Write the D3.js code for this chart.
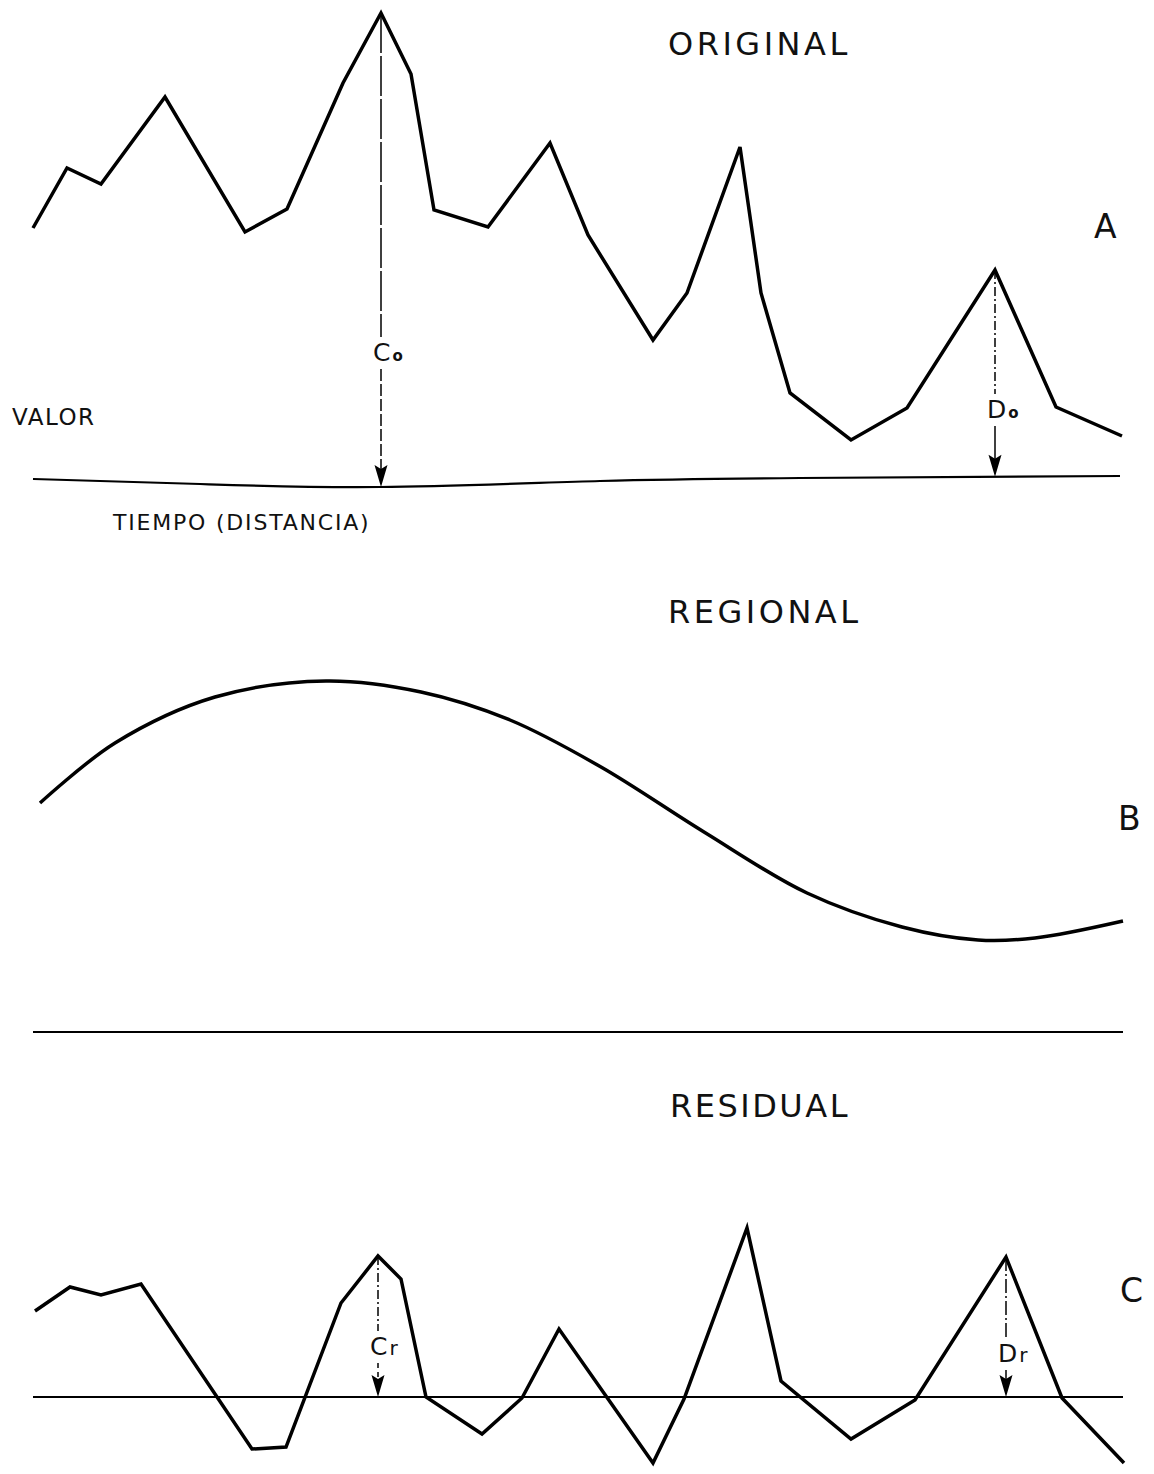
<!DOCTYPE html>
<html>
<head>
<meta charset="utf-8">
<script src="https://cdn.jsdelivr.net/npm/d3@7"></script>
<style>
  body { margin: 0; background: #fff; }
  text { font-family: "DejaVu Sans", sans-serif; fill: #111; }
</style>
</head>
<body>
<div class="canvas"></div>
<script>
// distance along the profile, shared by the three panels
const distA = [0, 34, 68, 132, 212, 254, 310, 348, 378, 401, 455, 517, 555, 620, 654, 707, 728, 757, 818, 874, 962, 1023, 1089];
const valA = [252, 312, 296, 383, 248, 271, 397, 467, 406, 270, 253, 337, 245, 140, 187, 333, 187, 87, 40, 72, 210, 73, 44];

// the time axis of panel A sags a little in the middle
const baseDistA = [0, 167, 347, 567, 767, 1087];
const baseValA = [1, -4, -7, -1, 2, 4];

const distB = [7, 82, 182, 293, 388, 477, 568, 671, 774, 869, 945, 1002, 1090];
const valB = [229, 289, 335, 351, 340, 312, 265, 200, 139, 105, 92, 94, 111];

const distC = [2, 37, 68, 108, 219, 253, 308, 345, 368, 393, 449, 489, 526, 620, 651, 714, 748, 818, 882, 973, 1029, 1091];
const valC = [86, 110, 102, 113, -52, -50, 94, 141, 118, 0, -37, -1, 68, -66, -2, 169, 16, -42, -3, 140, -1, -66];

// which peak each measurement arrow hangs from
const peaksA = [{ i: 7, main: "C", sub: "o" }, { i: 20, main: "D", sub: "o" }];
const peaksC = [{ i: 7, main: "C", sub: "r" }, { i: 19, main: "D", sub: "r" }];

const width = 1154;
const height = 1474;

const svg = d3
  .select(".canvas")
  .append("svg")
  .attr("width", width)
  .attr("height", height);

const x = d3.scaleLinear().domain([0, 1090]).range([33, 1123]);

// each panel has its own zero line, same vertical unit
const yScale = base => d3.scaleLinear().domain([0, 470]).range([base, base - 470]);
const yA = yScale(480);
const yB = yScale(1032);
const yC = yScale(1397);

const drawLine = (pts, y, curve, sw) =>
  svg
    .append("path")
    .datum(pts)
    .attr("fill", "none")
    .attr("stroke", "#000")
    .attr("stroke-width", sw)
    .attr("stroke-linejoin", "miter")
    .attr(
      "d",
      d3
        .line()
        .x(d => x(d[0]))
        .y(d => y(d[1]))
        .curve(curve)
    );

const zip = (a, b) => a.map((d, i) => [d, b[i]]);

// axes (zero lines)
drawLine(zip(baseDistA, baseValA), yA, d3.curveNatural, 2.2);
drawLine([[0, 0], [1090, 0]], yB, d3.curveLinear, 2.2);
drawLine([[0, 0], [1090, 0]], yC, d3.curveLinear, 2.2);

// series
drawLine(zip(distA, valA), yA, d3.curveLinear, 3.5);
drawLine(zip(distB, valB), yB, d3.curveCatmullRom, 3.5);
drawLine(zip(distC, valC), yC, d3.curveLinear, 3.5);

// vertical measurement arrow from a peak down to the zero line
const arrow = (px, yTop, yBot, label, labelY, upDash, lowDash) => {
  const g = svg.append("g");
  g.append("line")
    .attr("x1", px).attr("x2", px)
    .attr("y1", yTop).attr("y2", labelY - 24)
    .attr("stroke", "#000").attr("stroke-width", 1.5)
    .attr("stroke-dasharray", upDash);
  g.append("line")
    .attr("x1", px).attr("x2", px)
    .attr("y1", labelY + 8).attr("y2", yBot - 14)
    .attr("stroke", "#000").attr("stroke-width", 1.5)
    .attr("stroke-dasharray", lowDash);
  g.append("path")
    .attr("d", `M${px},${yBot} L${px - 6.5},${yBot - 22} L${px},${yBot - 18} L${px + 6.5},${yBot - 22} Z`)
    .attr("fill", "#000");
  const t = g.append("text")
    .attr("x", px - 8)
    .attr("y", labelY)
    .attr("font-size", 25);
  t.append("tspan").text(label.main);
  t.append("tspan")
    .attr("font-size", label.sub === "o" ? 15 : 20)
    .attr("font-weight", label.sub === "o" ? "bold" : "normal")
    .attr("dx", 2)
    .text(label.sub);
};

const peakA = peaksA.map(p => ({ ...p, px: x(distA[p.i]), py: yA(valA[p.i]) }));
const baseAt = d => yA(d3.scaleLinear().domain(baseDistA).range(baseValA)(d));
arrow(peakA[0].px, peakA[0].py, baseAt(distA[peakA[0].i]), peakA[0], 361, "40,3", "12,3");
arrow(peakA[1].px, peakA[1].py, baseAt(distA[peakA[1].i]), peakA[1], 418, "9,3,2,3", null);

const peakC = peaksC.map(p => ({ ...p, px: x(distC[p.i]), py: yC(valC[p.i]) }));
arrow(peakC[0].px, peakC[0].py, yC(0), peakC[0], 1355, "9,3,2,3", "5,4");
arrow(peakC[1].px, peakC[1].py, yC(0), peakC[1], 1362, "14,3,2,3", null);

// titles and panel letters
const label = (txt, tx, ty, size, spacing) =>
  svg
    .append("text")
    .attr("x", tx)
    .attr("y", ty)
    .attr("font-size", size)
    .attr("letter-spacing", spacing)
    .text(txt);

label("ORIGINAL", 668, 55, 32, 3.5);
label("REGIONAL", 668, 623, 32, 3.5);
label("RESIDUAL", 670, 1117, 32, 2.5);
label("A", 1094, 238, 33, 0);
label("B", 1118, 830, 33, 0);
label("C", 1120, 1302, 33, 0);
label("VALOR", 12, 425, 23, 1.5);
label("TIEMPO (DISTANCIA)", 113, 530, 22, 1.8);
</script>
</body>
</html>
